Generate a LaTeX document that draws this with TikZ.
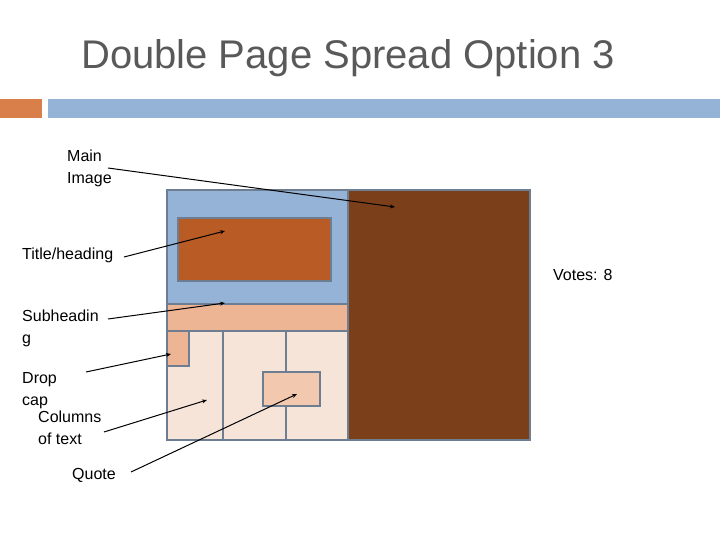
\documentclass[tikz,border=0pt]{standalone}
\usepackage{fontspec}
\setmainfont{Liberation Sans}
\usetikzlibrary{arrows.meta}
\definecolor{barblue}{HTML}{95B3D7}
\definecolor{barorange}{HTML}{D9804A}
\definecolor{brownpg}{HTML}{7B3F19}
\definecolor{titlebox}{HTML}{B85B24}
\definecolor{subband}{HTML}{EDB594}
\definecolor{colbg}{HTML}{F7E4D8}
\definecolor{quotebg}{HTML}{F2C9AE}
\definecolor{frame}{HTML}{6D7E93}
\definecolor{titlegray}{HTML}{595959}
\begin{document}
\begin{tikzpicture}[x=1pt,y=-1pt,
  lbl/.style={anchor=north west,inner sep=0pt,align=left,font=\fontsize{16}{22}\selectfont},
  box/.style={draw=frame,line width=2pt},
  arr/.style={-{Stealth[length=5pt,width=4pt]},line width=1pt}]
\useasboundingbox (0,0) rectangle (720,540);
\node[text=titlegray,font=\fontsize{40}{48}\selectfont] (title) at (348,58) {Double Page Spread Option 3};
\fill[barorange] (0,99) rectangle (42,118);
\fill[barblue] (48,99) rectangle (720,118);
% page frame
\fill[brownpg] (348,190) rectangle (530,440);
\fill[barblue] (167,190) rectangle (348,304);
\fill[subband] (167,304) rectangle (348,331);
\fill[colbg] (167,331) rectangle (348,440);
\draw[box,fill=titlebox] (178,218) rectangle (331,281);
\draw[box,fill=subband] (167,331) rectangle (189,366);
\draw[box] (223,331) -- (223,440) (286,331) -- (286,440);
\draw[box] (167,304) -- (348,304) (167,331) -- (348,331);
\draw[box,fill=quotebg] (263,372) rectangle (320,406);
\draw[box] (167,190) rectangle (530,440) (348,190) -- (348,440);
% labels
\node[lbl] (main) at (67,150) {Main\\Image};
\node[lbl] (head) at (22,248) {Title/heading};
\node[lbl] (sub) at (22,310) {Subheadin\\g};
\node[lbl] (drop) at (22,372) {Drop\\cap};
\node[lbl] (cols) at (38,411) {Columns\\of text};
\node[lbl] (quote) at (72,468) {Quote};
\node[lbl] (votes) at (553,269) {Votes: 8};
% targets
\coordinate (tmain) at (395,207);
\coordinate (thead) at (225,231);
\coordinate (tsub) at (225,303);
\coordinate (tdrop) at (171,354);
\coordinate (tcols) at (207,400);
\coordinate (tquote) at (297,394);
\coordinate (smain) at (108,168);
\coordinate (shead) at (124,257);
\coordinate (ssub) at (108,319);
\coordinate (sdrop) at (86,372);
\coordinate (scols) at (104,432);
\coordinate (squote) at (131,472);
\draw[arr] (smain) -- (tmain);
\draw[arr] (shead) -- (thead);
\draw[arr] (ssub) -- (tsub);
\draw[arr] (sdrop) -- (tdrop);
\draw[arr] (scols) -- (tcols);
\draw[arr] (squote) -- (tquote);
\end{tikzpicture}
\end{document}
